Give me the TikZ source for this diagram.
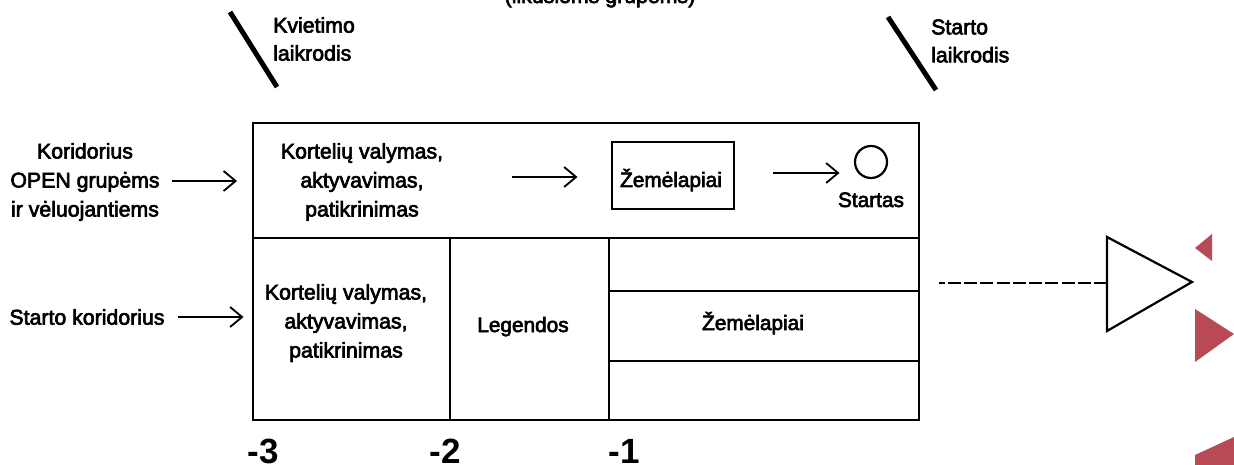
\documentclass[tikz,border=0pt]{standalone}
\usepackage{fontspec}
\setmainfont[FakeBold=3]{Liberation Sans}
\newfontfamily\numfont{Liberation Sans Bold}
\usetikzlibrary{arrows.meta}
\tikzset{
  lbl/.style={inner sep=0pt,align=center,font=\fontsize{21.3}{29}\selectfont,text=black},
  lone/.style={inner sep=0pt,anchor=base,font=\fontsize{20.8}{29}\selectfont,text=black},
  lleft/.style={inner sep=0pt,align=left,anchor=west,font=\fontsize{21.3}{28}\selectfont,text=black},
  num/.style={inner sep=0pt,anchor=base,font=\numfont\fontsize{35}{35}\selectfont},
  ln/.style={line width=2.2pt,black},
  clock/.style={line width=5pt,black},
  arr/.style={line width=1.8pt,black,-{Straight Barb[length=12pt,width=20pt,line width=1.8pt]}},
  rtri/.style={fill={rgb,255:red,184;green,74;blue,85},draw=none},
}
\begin{document}
\begin{tikzpicture}[x=1pt,y=-1pt]
\useasboundingbox (0,0) rectangle (1234,465);
\clip (0,0) rectangle (1234,465);
\node[ln,draw,minimum width=666pt,minimum height=297pt,inner sep=0pt,anchor=north west] (outer) at (252,122) {};
\coordinate (h1l) at (252,238); \coordinate (h1r) at (918,238);
\draw[ln] (h1l) -- (h1r);
\coordinate (v1t) at (450,238); \coordinate (v1b) at (450,419);
\coordinate (v2t) at (609,238); \coordinate (v2b) at (609,419);
\draw[ln] (v1t) -- (v1b);
\draw[ln] (v2t) -- (v2b);
\coordinate (h2l) at (609,291); \coordinate (h2r) at (918,291);
\coordinate (h3l) at (609,361); \coordinate (h3r) at (918,361);
\draw[ln] (h2l) -- (h2r);
\draw[ln] (h3l) -- (h3r);
\node[lbl] (card1) at (362,182) {Kortelių valymas,\\aktyvavimas,\\patikrinimas};
\node[ln,draw,minimum width=122pt,minimum height=67pt,inner sep=0pt] (map1) at (673,175.5) {};
\node[lone] (map1t) at (671,187) {Žemėlapiai};
\node[ln,draw,circle,minimum size=32pt,inner sep=0pt] (circ) at (871,162) {};
\node[lone] (start) at (871,207) {Startas};
\coordinate (a3s) at (512,177); \coordinate (a3e) at (577.5,177);
\draw[arr] (a3s) -- (a3e);
\coordinate (a4s) at (773,173); \coordinate (a4e) at (839.5,173);
\draw[arr] (a4s) -- (a4e);
\node[lbl] (card2) at (346,323) {Kortelių valymas,\\aktyvavimas,\\patikrinimas};
\node[lone] (leg) at (523,332) {Legendos};
\node[lone] (map2) at (753,330) {Žemėlapiai};
\node[lbl] (cor1) at (85,182) {Koridorius\\OPEN grupėms\\ir vėluojantiems};
\node[lbl] (cor2) at (87,317) {Starto koridorius};
\coordinate (a1s) at (172,181); \coordinate (a1e) at (237,181);
\coordinate (a2s) at (178,317); \coordinate (a2e) at (243.5,317);
\draw[arr] (a1s) -- (a1e);
\draw[arr] (a2s) -- (a2e);
\coordinate (c1s) at (230,12); \coordinate (c1e) at (277,87);
\coordinate (c2s) at (888,17); \coordinate (c2e) at (936,90);
\draw[clock] (c1s) -- (c1e);
\draw[clock] (c2s) -- (c2e);
\node[lleft] (kv) at (273,39) {Kvietimo\\laikrodis};
\node[lleft] (st) at (931,41) {Starto\\laikrodis};
\node[lone,font=\fontsize{21.3}{29}\selectfont] (lik) at (600,3) {(likusioms grupėms)};
\node[num] (n3) at (263,463) {-3};
\node[num] (n2) at (445,463) {-2};
\node[num] (n1) at (624,463) {-1};
\coordinate (ta) at (1107,237); \coordinate (tb) at (1192,282); \coordinate (tc) at (1107,331);
\draw[ln,line join=miter] (ta) -- (tb) -- (tc) -- cycle;
\coordinate (d1) at (939,283); \coordinate (d2) at (1107,283);
\draw[line width=2.4pt,dash pattern=on 12.9pt off 3.35pt] (d2) -- (d1);
\fill[rtri] (1195,248) -- (1212,234) -- (1212,261) -- cycle;
\fill[rtri] (1195,309) -- (1234,334) -- (1195,362) -- cycle;
\fill[rtri] (1195,455) -- (1234,437) -- (1234,465) -- (1195,465) -- cycle;
\end{tikzpicture}
\end{document}
